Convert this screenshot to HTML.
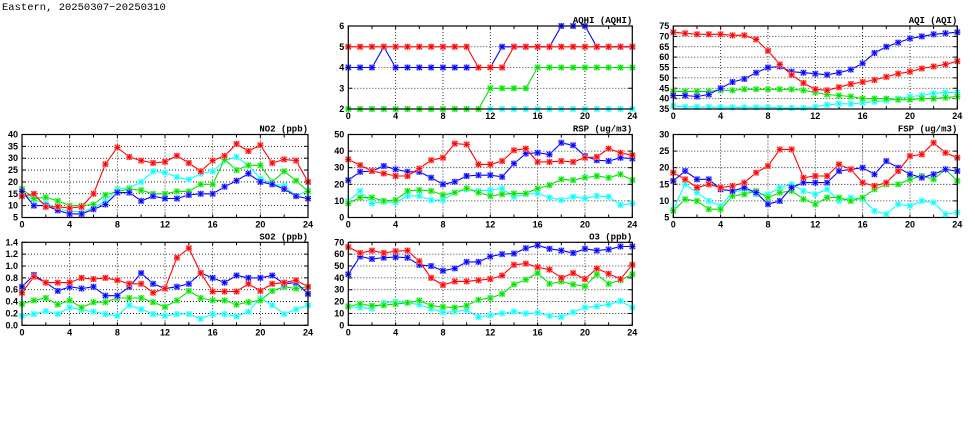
<!DOCTYPE html>
<html><head><meta charset="utf-8"><style>
body{margin:0;background:#fff;width:975px;height:447px;overflow:hidden}
svg{display:block}
text{font-family:"Liberation Sans",sans-serif;font-weight:bold;font-size:9px}
</style></head><body>
<svg id="c" width="975" height="447" xmlns="http://www.w3.org/2000/svg">
<text x="2" y="10" style="font-family:'Liberation Mono',monospace;font-weight:normal;font-size:10.5px">Eastern, 20250307−20250310</text>
</svg>
<script>
const hours=[0,1,2,3,4,5,6,7,8,9,10,11,12,13,14,15,16,17,18,19,20,21,22,23,24];
const colors=["red","blue","green","cyan"];
const aqhiRed=[5,5,5,5,5,5,5,5,5,5,5,4,4,4,5,5,5,5,5,5,5,5,5,5,5];
const aqhiBlue=[4,4,4,5,4,4,4,4,4,4,4,4,4,5,5,5,5,5,6,6,6,5,5,5,5];
const aqhiGreen=[2,2,2,2,2,2,2,2,2,2,2,2,3,3,3,3,4,4,4,4,4,4,4,4,4];
const aqhiCyan=[2,2,2,2,2,2,2,2,2,2,2,2,2,2,2,2,2,2,2,2,2,2,2,2,2];
const aqiRed=[72,71.5,71,71,71,70.5,70.5,68.5,63,56.5,51.5,47.5,44.5,44,45.5,47,48,49,50.5,52,53,54.5,55.5,56.5,58];
const aqiBlue=[41.5,41.5,41,42,45,48,49.5,52.5,55,55.5,53,52.5,52,51.5,52.5,54,57,62,65,67,69,70,71,71.5,72];
const aqiGreen=[43.5,43.5,43.5,43.5,44,44,44.5,44.5,44.5,44.5,44.5,44,43,42,41.5,41,40,40,40,39.5,39.5,40,40,40.5,41];
const aqiCyan=[36.5,36,36,36,35.8,35.8,35.8,35.8,35.8,35.5,35.5,35.5,36,37,37.5,37.5,38,38.5,39,40,41,41.5,42.5,43,43];
const no2Red=[14,15,9.5,9.5,9,9.5,15,27.5,34.5,30.5,29,28,28.5,31,28,24.5,29,31,36,33,35.5,28,29.5,29,20];
const no2Blue=[16,10,10,8,6.5,6.5,8.5,10.5,15.5,15.5,12,14,13,13,14.5,15,15,18,20.5,23.5,20,19,17,14,13];
const no2Green=[17,13,13.5,12,10,10,10.5,14.5,16,17,16.5,15,15,16,16,19,19,29.5,25,27,27,20,24.5,20.5,16];
const no2Cyan=[15,12.5,11,9,7.5,7.5,9,12,17,17.5,20,24.5,24,22,21,23.5,24.5,29,30.5,27,21.5,19,18.5,14,16.5];
const rspRed=[35,31.5,28,26.5,25,25,29.5,34.5,36,44.5,44,32,32,34,40.5,41.5,33.5,33.5,34,33.5,36,36.5,41.5,39,37.5];
const rspBlue=[22.5,27.5,28,31,29,27.5,27.5,24,20,21.5,25,25.5,25.5,24.5,32.5,38.5,39,38,45,43.5,37,34.5,34,36,35.5];
const rspGreen=[8.5,12,12,10,10.5,16,16.5,16,13.5,15,17.5,15,13,14,14.5,14.5,17.5,19.5,23,22.5,24,25,24,26,22.5];
const rspCyan=[10,16,8.5,9.5,9,13,13,10.5,10.5,15,17,16,16.5,17.5,12.5,14,14.5,12,10.5,12.5,11.5,13,12.5,7.5,8.5];
const fspRed=[18.5,16.5,14,15,14,14.5,15.5,18.5,20.5,25.5,25.5,17,17.5,17.5,21,19.5,15.5,14.5,15.5,19,23.5,24,27.5,24.5,23];
const fspBlue=[16,19,16.5,16.5,13.5,13,14,12.5,9,10,14,15.5,15.5,15.5,19,19.5,20,18,22,20,18,17,18,19.5,19];
const fspGreen=[7,10.5,10,7.5,7.5,11.5,12,13,11,12.5,13,10.5,9,11,11,10,11,13.5,15,15,16.5,17.5,16.5,19.5,16];
const fspCyan=[7.5,15,12.5,10,8.5,12.5,13.5,12,12,14,15,13,12,13.5,10,11,10.5,7,6,9,8.5,10,9.5,6,6.5];
const so2Red=[0.55,0.82,0.72,0.72,0.72,0.8,0.78,0.8,0.76,0.7,0.7,0.55,0.62,1.14,1.3,0.88,0.57,0.57,0.57,0.7,0.58,0.7,0.72,0.76,0.65];
const so2Blue=[0.65,0.85,0.72,0.58,0.65,0.62,0.65,0.5,0.5,0.65,0.88,0.7,0.62,0.65,0.7,0.88,0.8,0.72,0.84,0.8,0.8,0.84,0.7,0.72,0.53];
const so2Green=[0.36,0.42,0.46,0.35,0.42,0.3,0.39,0.39,0.46,0.46,0.46,0.39,0.31,0.42,0.58,0.46,0.42,0.42,0.35,0.39,0.42,0.58,0.65,0.62,0.65];
const so2Cyan=[0.16,0.19,0.24,0.19,0.3,0.26,0.23,0.19,0.16,0.34,0.27,0.19,0.16,0.19,0.19,0.11,0.19,0.19,0.15,0.23,0.46,0.34,0.19,0.27,0.34];
const o3Red=[66,61,63,61,62.5,63,54,40,34,37,37,38,39,42,51,52,49,47,40,44,39,48,43.5,39,51];
const o3Blue=[43,58,56,57,57.5,57,51,50,46,48,53.5,53.5,58,60,60.5,65,67.5,64.5,63,61,64.5,63,64,66.5,66.5];
const o3Green=[16,18,16.5,17,18,19,21,16.5,15.5,15,16.5,21.5,23,26.5,34.5,38.5,44,35,37,34.5,33,43,35,38,43];
const o3Cyan=[15.5,15,14,19,20,19,17.5,14,11,11.5,13,7,8.5,10,11.5,10,10.5,8,7,11,15,16,17.5,20.5,15];
const xTicks=[0,4,8,12,16,20,24];
const aqhiTicks=["2","3","4","5","6"];
const aqiTicks=["35","40","45","50","55","60","65","70","75"];
const no2Ticks=["5","10","15","20","25","30","35","40"];
const rspTicks=["0","10","20","30","40","50"];
const fspTicks=["5","10","15","20","25","30"];
const so2Ticks=["0.0","0.2","0.4","0.6","0.8","1.0","1.2","1.4"];
const o3Ticks=["0","10","20","30","40","50","60","70"];

const NS="http://www.w3.org/2000/svg";
const svg=document.getElementById('c');
function mk(tag,attrs,parent){const e=document.createElementNS(NS,tag);for(const k in attrs)e.setAttribute(k,attrs[k]);(parent||svg).appendChild(e);return e;}
const light={red:"#ff9a9a",blue:"#9a9aff",green:"#9aff9a",cyan:"#b8ffff"};
const stroke={red:"#ff0000",blue:"#0000ff",green:"#00e000",cyan:"#00ffff"};

function panel(name,title,x0,y0,w,h,ticks,series){
  const g=mk('g',{});
  
  
  const ymin=parseFloat(ticks[0]),ymax=parseFloat(ticks[ticks.length-1]);
  const X=v=>x0+v/24*w;
  const Y=v=>y0+h-(v-ymin)/(ymax-ymin)*h;
  xTicks.forEach(t=>{ if(t>0&&t<24){const l=mk('line',{x1:X(t),x2:X(t),y1:y0,y2:y0+h,stroke:'#000','stroke-width':0.8,'stroke-dasharray':'1,2'},g);}});
  ticks.forEach((t,i)=>{const v=parseFloat(t);if(i>0&&i<ticks.length-1){const l=mk('line',{x1:x0,x2:x0+w,y1:Y(v),y2:Y(v),stroke:'#000','stroke-width':0.8,'stroke-dasharray':'1,2'},g);}});
  for(let t=0;t<=24;t+=2){mk('line',{x1:X(t),x2:X(t),y1:y0+h,y2:y0+h-3,stroke:'#000','stroke-width':1},g);mk('line',{x1:X(t),x2:X(t),y1:y0,y2:y0+3,stroke:'#000','stroke-width':1},g);}
  ticks.forEach(t=>{const v=parseFloat(t);mk('line',{x1:x0,x2:x0+4,y1:Y(v),y2:Y(v),stroke:'#000'},g);mk('line',{x1:x0+w,x2:x0+w-4,y1:Y(v),y2:Y(v),stroke:'#000'},g);
    const tx=mk('text',{x:x0-4,y:Y(v)+3,'text-anchor':'end'},g);tx.textContent=t;});
  xTicks.forEach(t=>{const tx=mk('text',{x:X(t),y:y0+h+10,'text-anchor':'middle'},g);tx.textContent=t;});
  for(let si=series.length-1;si>=0;si--){
    const s=series[si];
    const c=colors[si];
    const sg=mk('g',{},g);
    
    
    const pts=s.map((v,i)=>X(hours[i]).toFixed(1)+','+Y(v).toFixed(1)).join(' ');
    mk('polyline',{points:pts,fill:'none',stroke:stroke[c],'stroke-width':1.1},sg);
    s.forEach((v,i)=>{const cx=X(hours[i]),cy=Y(v);
      const m=mk('rect',{x:cx-3,y:cy-3,width:6,height:6,fill:light[c]},sg);
      
      
      mk('path',{d:`M${cx-2.5},${cy-2.5}L${cx+2.5},${cy+2.5}M${cx-2.5},${cy+2.5}L${cx+2.5},${cy-2.5}M${cx-3},${cy}L${cx+3},${cy}M${cx},${cy-3}L${cx},${cy+3}`,stroke:stroke[c],'stroke-width':0.9},sg);});
  }
  const fr=mk('rect',{x:x0,y:y0,width:w,height:h,fill:'none',stroke:'#000','stroke-width':1.2},g);
  
  const tt=mk('text',{x:x0+w,y:y0-3,'text-anchor':'end',style:"font-family:'Liberation Mono',monospace;font-size:9px"},g);
  tt.textContent=title;
}
const H=83;
panel('aqhi','AQHI (AQHI)',348.3,26,284,H,aqhiTicks,[aqhiRed,aqhiBlue,aqhiGreen,aqhiCyan]);
panel('aqi','AQI (AQI)',673.3,26,284,H,aqiTicks,[aqiRed,aqiBlue,aqiGreen,aqiCyan]);
panel('no2','NO2 (ppb)',22,134.5,286,H,no2Ticks,[no2Red,no2Blue,no2Green,no2Cyan]);
panel('rsp','RSP (ug/m3)',348.3,134.5,284,H,rspTicks,[rspRed,rspBlue,rspGreen,rspCyan]);
panel('fsp','FSP (ug/m3)',673.3,134.5,284,H,fspTicks,[fspRed,fspBlue,fspGreen,fspCyan]);
panel('so2','SO2 (ppb)',22,242.3,286,H,so2Ticks,[so2Red,so2Blue,so2Green,so2Cyan]);
panel('o3','O3 (ppb)',348.3,242.3,284,H,o3Ticks,[o3Red,o3Blue,o3Green,o3Cyan]);
</script>
</body></html>
